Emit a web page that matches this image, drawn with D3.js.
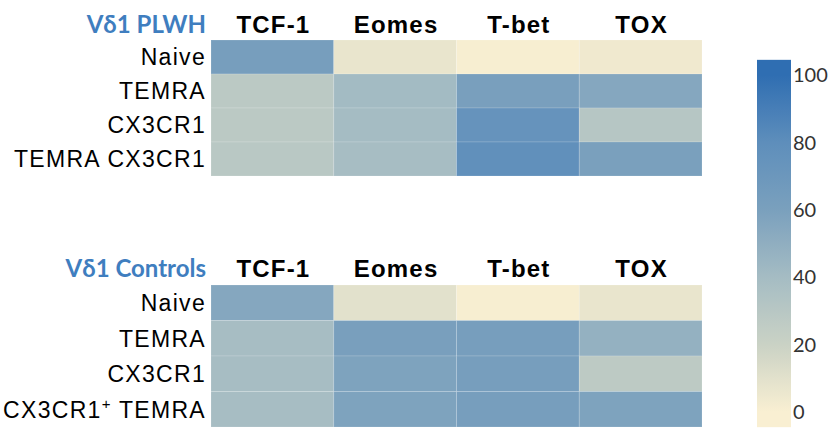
<!DOCTYPE html>
<html>
<head>
<meta charset="utf-8">
<script src="https://cdn.jsdelivr.net/npm/d3@7"></script>
<style>
  html, body { margin: 0; padding: 0; background: #fff; }
  svg { display: block; }
</style>
</head>
<body>
<svg id="chart" width="834" height="430"></svg>
<script>
// Transcription factors (columns)
const markers = ["TCF-1", "Eomes", "T-bet", "TOX"];

// Panel 1: Vδ1 PLWH
const plwhTitle = "Vδ1 PLWH";
const plwhRows = ["Naive", "TEMRA", "CX3CR1", "TEMRA CX3CR1"];
const plwhValues = [
  [62, 7, 1, 4],
  [28, 41, 61, 55],
  [28, 40, 74, 31],
  [29, 39, 78, 60]
];

// Panel 2: Vδ1 Controls
const ctrlTitle = "Vδ1 Controls";
const ctrlRows = ["Naive", "TEMRA", "CX3CR1", "CX3CR1+ TEMRA"];
const ctrlValues = [
  [55, 10, 1, 7],
  [39, 61, 62, 48],
  [39, 58, 62, 27],
  [39, 58, 62, 58]
];

// Legend
const legendTicks = [0, 20, 40, 60, 80, 100];

const svg = d3.select("#chart");

// Cream -> grey-teal -> steel blue
const color = d3.scaleLinear()
  .domain([0, 20, 40, 60, 80, 100])
  .range(["#f9efd2", "#cad2c5", "#a5bcc3", "#7aa0bd", "#5e8ebb", "#2f6eb2"])
  .interpolate(d3.interpolateRgb)
  .clamp(true);

const x = d3.scaleBand().domain(markers).range([211, 702]).padding(0);

function panel(title, rows, values, top, bottom, headerY) {
  const y = d3.scaleBand().domain(rows).range([top, bottom]).padding(0);
  const g = svg.append("g");

  const cells = [];
  values.forEach((row, i) => row.forEach((v, j) => cells.push({ r: rows[i], c: markers[j], v })));

  g.selectAll("rect.cell").data(cells).join("rect")
    .attr("class", "cell")
    .attr("x", d => x(d.c))
    .attr("y", d => y(d.r))
    .attr("width", x.bandwidth())
    .attr("height", y.bandwidth())
    .attr("fill", d => color(d.v))
    .attr("stroke", "rgba(255,255,255,0.15)")
    .attr("stroke-width", 1);

  // Panel title
  g.append("text")
    .attr("x", 206).attr("y", headerY)
    .attr("text-anchor", "end")
    .attr("font-family", "Lato, 'Open Sans', sans-serif")
    .attr("font-weight", "bold")
    .attr("font-size", 24)
    .attr("fill", "#3f7ebf")
    .text(title);

  // Column headers
  g.selectAll("text.hdr").data(markers).join("text")
    .attr("class", "hdr")
    .attr("x", d => x(d) + x.bandwidth() / 2 + 1)
    .attr("y", headerY)
    .attr("text-anchor", "middle")
    .attr("font-family", "'Liberation Sans', Arial, sans-serif")
    .attr("font-weight", "bold")
    .attr("font-size", 24)
    .attr("letter-spacing", "1.2px")
    .attr("fill", "#000")
    .text(d => d);

  // Row labels
  const lbl = g.selectAll("text.row").data(rows).join("text")
    .attr("class", "row")
    .attr("x", 206)
    .attr("y", d => y(d) + y.bandwidth() / 2)
    .attr("dy", "0.36em")
    .attr("text-anchor", "end")
    .attr("font-family", "'Liberation Sans', Arial, sans-serif")
    .attr("font-size", 23)
    .attr("letter-spacing", "1.3px")
    .attr("fill", "#000");

  lbl.each(function(d) {
    const t = d3.select(this);
    const m = d.match(/^(.*?)\+(.*)$/);
    if (m) {
      t.append("tspan").text(m[1]);
      t.append("tspan").attr("font-size", 15).attr("dy", "-0.6em").text("+");
      t.append("tspan").attr("dy", "0.4em").text(m[2]);
    } else {
      t.text(d);
    }
  });
}

panel(plwhTitle, plwhRows, plwhValues, 40, 176, 33);
panel(ctrlTitle, ctrlRows, ctrlValues, 285, 427, 277);

// Colour legend: gradient spans slightly past the end ticks
const ly = d3.scaleLinear().domain([0, 100]).range([412, 75]);
const defs = svg.append("defs");
const grad = defs.append("linearGradient")
  .attr("id", "legendGrad")
  .attr("gradientUnits", "userSpaceOnUse")
  .attr("x1", 0).attr("y1", ly(0)).attr("x2", 0).attr("y2", ly(100));
d3.range(0, 101, 5).forEach(v => {
  grad.append("stop").attr("offset", v / 100).attr("stop-color", color(v));
});

const lo = -4.5, hi = 104.5;
const lg = svg.append("g");
lg.append("rect")
  .attr("x", 757).attr("y", ly(hi))
  .attr("width", 34).attr("height", ly(lo) - ly(hi))
  .attr("fill", "url(#legendGrad)");

lg.selectAll("text").data(legendTicks).join("text")
  .attr("x", 793)
  .attr("y", d => ly(d))
  .attr("dy", "0.36em")
  .attr("font-family", "Lato, 'Open Sans', sans-serif")
  .attr("font-size", 20)
  .attr("fill", "#333")
  .text(d => d);
</script>
</body>
</html>
